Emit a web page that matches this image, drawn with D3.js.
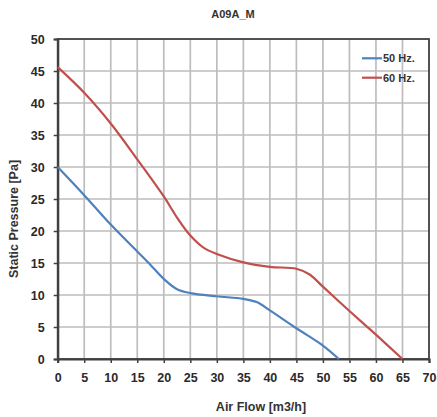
<!DOCTYPE html>
<html>
<head>
<meta charset="utf-8">
<script src="https://cdn.jsdelivr.net/npm/d3@7/dist/d3.min.js"></script>
<style>
  html, body { margin: 0; padding: 0; background: #fff; }
  svg { display: block; font-family: "Liberation Sans", Arial, sans-serif; }
</style>
</head>
<body>
<svg id="chart" width="437" height="417"></svg>
<script>
const title = "A09A_M";
const xTitle = "Air Flow [m3/h]";
const yTitle = "Static Pressure [Pa]";
const seriesNames = ["50 Hz.", "60 Hz."];
const seriesColors = ["#4f81bd", "#c0504d"];
const xTicks = [0, 5, 10, 15, 20, 25, 30, 35, 40, 45, 50, 55, 60, 65, 70];
const yTicks = [0, 5, 10, 15, 20, 25, 30, 35, 40, 45, 50];

const flow50 = [0, 5, 10, 15, 17.5, 20, 22.5, 25, 30, 35, 37.5, 40, 45, 50, 53];
const pres50 = [30, 25.6, 21, 16.8, 14.7, 12.5, 10.9, 10.3, 9.8, 9.4, 8.9, 7.6, 4.8, 2.1, 0];

const flow60 = [0, 5, 10, 15, 20, 22.5, 25, 27.5, 30, 35, 40, 45, 47.5, 50, 55, 60, 65];
const pres60 = [45.6, 41.6, 36.8, 31.2, 25.4, 22.1, 19.3, 17.4, 16.4, 15.1, 14.4, 14.1, 13.2, 11.3, 7.5, 3.8, 0];

const svg = d3.select("#chart");
const L = 57.7, R = 429, T = 39, B = 359;
const x = d3.scaleLinear().domain([0, 70]).range([L, R]);
const y = d3.scaleLinear().domain([0, 50]).range([B, T]);

// grid
const grid = svg.append("g");
grid.selectAll("line.v").data(xTicks.slice(1, -1)).join("line")
  .attr("x1", d => x(d)).attr("x2", d => x(d))
  .attr("y1", T).attr("y2", B)
  .attr("stroke", "#bdbdbd").attr("stroke-width", 1.7);
grid.selectAll("line.h").data(yTicks.slice(1, -1)).join("line")
  .attr("x1", L).attr("x2", R)
  .attr("y1", d => y(d)).attr("y2", d => y(d))
  .attr("stroke", "#bdbdbd").attr("stroke-width", 1.7);

// frame (top/right)
svg.append("rect").attr("x", L).attr("y", T).attr("width", R - L).attr("height", B - T)
  .attr("fill", "none").attr("stroke", "#404040").attr("stroke-width", 1.8);

// axes
const xAxis = svg.append("g").attr("transform", `translate(0,${B})`)
  .call(d3.axisBottom(x).tickValues(xTicks).tickSize(4).tickPadding(10));
const yAxis = svg.append("g").attr("transform", `translate(${L},0)`)
  .call(d3.axisLeft(y).tickValues(yTicks).tickSize(4).tickPadding(9));
[xAxis, yAxis].forEach(a => {
  a.select(".domain").attr("stroke", "#404040").attr("stroke-width", 2.2);
  a.selectAll(".tick line").attr("stroke", "#404040").attr("stroke-width", 1.5);
  a.selectAll(".tick text").attr("fill", "#2a2a2a").attr("font-size", 12.5)
    .attr("font-weight", "bold").attr("font-family", "'Liberation Sans', Arial, sans-serif");
});

// lines
const series = [
  flow50.map((f, i) => [f, pres50[i]]),
  flow60.map((f, i) => [f, pres60[i]])
];
const line = d3.line().x(d => x(d[0])).y(d => y(d[1])).curve(d3.curveCatmullRom.alpha(0.5));
series.forEach((s, i) => {
  svg.append("path").datum(s).attr("d", line)
    .attr("fill", "none").attr("stroke", seriesColors[i]).attr("stroke-width", 2.2)
    .attr("stroke-linejoin", "round");
});

// titles
svg.append("text").attr("x", 233).attr("y", 18).attr("text-anchor", "middle")
  .attr("font-size", 11).attr("font-weight", "bold").attr("fill", "#333").text(title);
svg.append("text").attr("x", 261).attr("y", 411).attr("text-anchor", "middle")
  .attr("font-size", 12.5).attr("font-weight", "bold").attr("fill", "#333").text(xTitle);
svg.append("text").attr("transform", "translate(18,219) rotate(-90)").attr("text-anchor", "middle")
  .attr("font-size", 12.5).attr("font-weight", "bold").attr("fill", "#333").text(yTitle);

// legend
const lg = svg.append("g");
seriesNames.forEach((n, i) => {
  const ly = 58.3 + i * 19.4;
  lg.append("line").attr("x1", 362).attr("x2", 382).attr("y1", ly).attr("y2", ly)
    .attr("stroke", seriesColors[i]).attr("stroke-width", 2.2);
  lg.append("text").attr("x", 383).attr("y", ly + 4).attr("font-size", 11)
    .attr("font-weight", "bold").attr("fill", "#333").text(n);
});
</script>
</body>
</html>
